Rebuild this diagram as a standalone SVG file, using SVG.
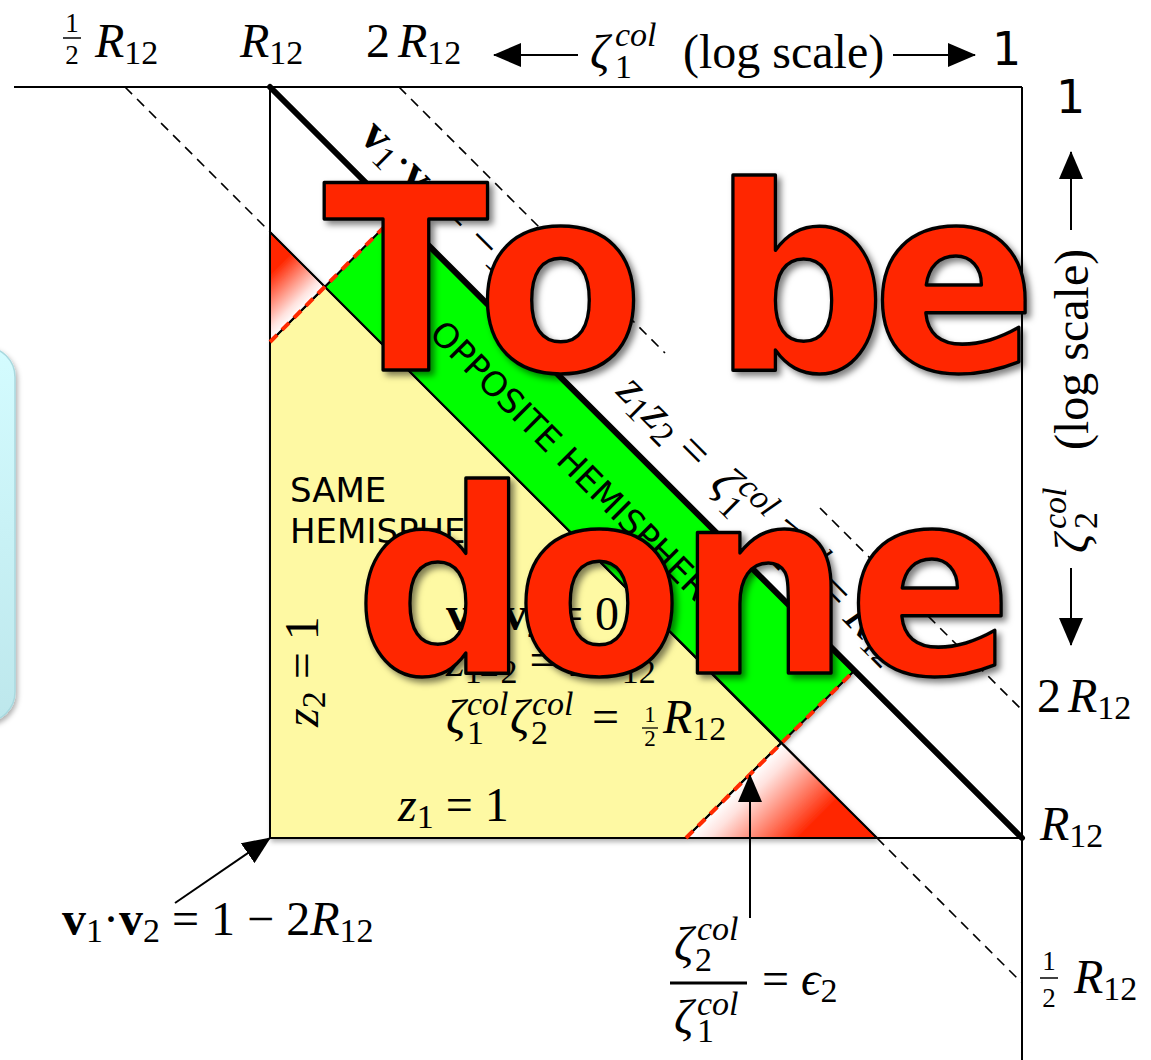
<svg xmlns="http://www.w3.org/2000/svg" width="1151" height="1060" viewBox="0 0 1151 1060">
<defs>
<style>
.m{font-family:"Liberation Serif","DejaVu Serif",serif;font-size:48px;fill:#000}
.it{font-style:italic}
.bf{font-weight:bold}
.s{font-size:34px}
.fr{font-size:27px}
.fs{font-size:23px}
.sans{font-family:"DejaVu Sans","Liberation Sans",sans-serif;fill:#000}
.ln{stroke:#000;stroke-width:2;fill:none}
.dash{stroke:#000;stroke-width:1.6;fill:none;stroke-dasharray:10 7}
.arr{stroke:#000;stroke-width:2;fill:none;marker-end:url(#ah)}
.eps1{stroke:#000;stroke-width:2;fill:none}
.eps2{stroke:#ff2a00;stroke-width:4;fill:none;stroke-dasharray:10 7}
.big{font-family:"DejaVu Sans","Liberation Sans",sans-serif;font-weight:bold;font-size:256px;fill:#ff2600;stroke:#000;stroke-width:3.5;stroke-linejoin:round}
</style>
<marker id="ah" viewBox="0 0 28 24" refX="27" refY="12" markerWidth="28" markerHeight="24" markerUnits="userSpaceOnUse" orient="auto"><path d="M0,0 L28,12 L0,24 z" fill="#000"/></marker>
<linearGradient id="gTL" gradientUnits="userSpaceOnUse" x1="306" y1="306" x2="272" y2="272"><stop offset="0" stop-color="#ffffff"/><stop offset="0.2" stop-color="#ffe2de"/><stop offset="1" stop-color="#ff2600"/></linearGradient>
<linearGradient id="gBR" gradientUnits="userSpaceOnUse" x1="762" y1="763" x2="818" y2="819"><stop offset="0" stop-color="#ffffff"/><stop offset="0.2" stop-color="#ffe2de"/><stop offset="1" stop-color="#ff2600"/></linearGradient>
<linearGradient id="gc" x1="0" y1="0" x2="0" y2="1"><stop offset="0" stop-color="#d4fcff"/><stop offset="1" stop-color="#bde7ec"/></linearGradient>
<filter id="sh" x="-10%" y="-10%" width="130%" height="130%"><feDropShadow dx="4" dy="4" stdDeviation="3" flood-color="#000" flood-opacity="0.5"/></filter>
<filter id="rs" x="-10%" y="-10%" width="130%" height="130%"><feDropShadow dx="2" dy="3" stdDeviation="2.5" flood-color="#000" flood-opacity="0.3"/></filter>
</defs>
<rect x="0" y="0" width="1151" height="1060" fill="#fff"/>

<g id="cyan-box"><rect x="-100" y="347" width="115" height="375" rx="30" fill="url(#gc)" stroke="#a9d9df" stroke-width="1.5" filter="url(#rs)"/></g>

<g id="regions" filter="url(#rs)">
<polygon id="same-hemisphere" points="270,342 325,287 781,743 686,838 270,838" fill="#fef9a3" stroke="#000" stroke-width="2"/>
<polygon id="opposite-hemisphere" points="325,287 397,214 854,671 781,743" fill="#00ff00" stroke="#000" stroke-width="1.5"/>
<polygon id="red-top" points="270,232 325,287 270,342" fill="url(#gTL)" stroke="#000" stroke-width="1.5"/>
<polygon id="red-bottom" points="781,743 877,838 686,838" fill="url(#gBR)" stroke="#000" stroke-width="1.5"/>
</g>

<g id="connectors">
<line class="ln" x1="14" y1="87" x2="1022" y2="87"/>
<line class="ln" x1="1022" y1="87" x2="1022" y2="1060"/>
<line class="ln" x1="270" y1="87" x2="270" y2="838"/>
<line class="ln" x1="270" y1="838" x2="1022" y2="838"/>
<line class="ln" x1="270" y1="232" x2="877" y2="838" stroke-width="1.5"/>
<line class="dash" x1="125" y1="87" x2="270" y2="232"/>
<line class="dash" x1="877" y1="838" x2="1022" y2="983"/>
<line class="dash" x1="399" y1="87" x2="665" y2="353"/>
<line class="dash" x1="820" y1="508" x2="1022" y2="710"/>
<line x1="270" y1="87" x2="1022" y2="838" stroke="#000" stroke-width="6" stroke-linecap="round"/>
<line class="eps1" x1="270" y1="342" x2="397" y2="214"/>
<line class="eps2" x1="270" y1="342" x2="397" y2="214"/>
<line class="eps1" x1="686" y1="838" x2="854" y2="671"/>
<line class="eps2" x1="686" y1="838" x2="854" y2="671"/>
<line class="arr" x1="578" y1="55" x2="494" y2="55"/>
<line class="arr" x1="893" y1="55" x2="975" y2="55"/>
<line class="arr" x1="1071" y1="230" x2="1071" y2="152"/>
<line class="arr" x1="1071" y1="568" x2="1071" y2="645"/>
<line class="arr" x1="175" y1="903" x2="270" y2="838"/>
<line class="arr" x1="750" y1="918" x2="750" y2="775"/>
</g>

<g id="top-axis-labels">
<text class="m fr" x="72" y="32" text-anchor="middle">1</text>
<line x1="63" y1="38" x2="81" y2="38" stroke="#000" stroke-width="1.5"/>
<text class="m fr" x="72" y="64" text-anchor="middle">2</text>
<text class="m" x="95" y="57"><tspan class="it">R</tspan><tspan class="s" dy="7">12</tspan></text>
<text class="m" x="240" y="57"><tspan class="it">R</tspan><tspan class="s" dy="7">12</tspan></text>
<text class="m" x="366" y="57">2</text>
<text class="m" x="398" y="57"><tspan class="it">R</tspan><tspan class="s" dy="7">12</tspan></text>
<text class="m it" x="590" y="68">ζ</text>
<text class="m s it" x="615" y="46">col</text>
<text class="m s" x="615" y="78">1</text>
<text class="m" x="683" y="68">(log scale)</text>
<text class="sans" x="992" y="65" font-size="46">1</text>
</g>

<g id="right-axis-labels">
<text class="sans" x="1056" y="113" font-size="46">1</text>
<g transform="translate(1088,553) rotate(-90)">
<text class="m it" x="0" y="0">ζ</text>
<text class="m s it" x="24" y="-22">col</text>
<text class="m s" x="24" y="9">2</text>
<text class="m" x="103" y="0">(log scale)</text>
</g>
<text class="m" x="1037" y="712">2</text>
<text class="m" x="1068" y="712"><tspan class="it">R</tspan><tspan class="s" dy="7">12</tspan></text>
<text class="m" x="1040" y="840"><tspan class="it">R</tspan><tspan class="s" dy="7">12</tspan></text>
<text class="m fr" x="1049" y="970" text-anchor="middle">1</text>
<line x1="1040" y1="978" x2="1058" y2="978" stroke="#000" stroke-width="1.5"/>
<text class="m fr" x="1049" y="1007" text-anchor="middle">2</text>
<text class="m" x="1074" y="993"><tspan class="it">R</tspan><tspan class="s" dy="7">12</tspan></text>
</g>

<g id="region-labels">
<text class="sans" x="290" y="502" font-size="34">SAME</text>
<text class="sans" x="290" y="543" font-size="34">HEMISPHERE</text>
<text class="sans" transform="translate(428,335) rotate(45)" font-size="34">OPPOSITE HEMISPHERE</text>
<text class="m" transform="translate(318,727) rotate(-90)"><tspan class="it">z</tspan><tspan class="s" dy="7">2</tspan><tspan dy="-7"> = 1</tspan></text>
<text class="m" x="398" y="821"><tspan class="it">z</tspan><tspan class="s" dy="7">1</tspan><tspan dy="-7"> = 1</tspan></text>
<text class="m" x="446" y="630"><tspan class="bf">v</tspan><tspan class="s" dy="7">1</tspan><tspan dy="-7">·</tspan><tspan class="bf">v</tspan><tspan class="s" dy="7">2</tspan><tspan dy="-7"> = 0</tspan></text>
<text class="m" x="446" y="676"><tspan class="it">z</tspan><tspan class="s" dy="7">1</tspan><tspan class="it" dy="-7">z</tspan><tspan class="s" dy="7">2</tspan><tspan dy="-7"> = 2</tspan><tspan class="it">R</tspan><tspan class="s" dy="7">12</tspan></text>
<text class="m it" x="446" y="733">ζ</text>
<text class="m s it" x="467" y="715">col</text>
<text class="m s" x="467" y="744">1</text>
<text class="m it" x="510" y="733">ζ</text>
<text class="m s it" x="532" y="715">col</text>
<text class="m s" x="531" y="744">2</text>
<text class="m" x="592" y="733">=</text>
<text class="m fs" x="650" y="722" text-anchor="middle">1</text>
<line x1="642" y1="728" x2="658" y2="728" stroke="#000" stroke-width="1.3"/>
<text class="m fs" x="650" y="746" text-anchor="middle">2</text>
<text class="m" x="663" y="733"><tspan class="it">R</tspan><tspan class="s" dy="7">12</tspan></text>
<text class="m" transform="translate(358,138) rotate(45)"><tspan class="bf">v</tspan><tspan class="s" dy="7">1</tspan><tspan dy="-7">·</tspan><tspan class="bf">v</tspan><tspan class="s" dy="7">2</tspan><tspan dy="-7"> = −1</tspan></text>
<g transform="translate(615,393) rotate(45)">
<text class="m"><tspan class="it">z</tspan><tspan class="s" dy="7">1</tspan><tspan class="it" dy="-7">z</tspan><tspan class="s" dy="7">2</tspan><tspan dy="-7"> = </tspan></text>
<text class="m it" x="132" y="0">ζ</text>
<text class="m s it" x="154" y="-18">col</text>
<text class="m s" x="154" y="10">1</text>
<text class="m it" x="204" y="0">ζ</text>
<text class="m s it" x="226" y="-18">col</text>
<text class="m s" x="226" y="10">2</text>
<text class="m" x="282" y="0">= <tspan class="it">R</tspan><tspan class="s" dy="7">12</tspan></text>
</g>
</g>

<g id="bottom-labels">
<text class="m" x="62" y="935"><tspan class="bf">v</tspan><tspan class="s" dy="7">1</tspan><tspan dy="-7">·</tspan><tspan class="bf">v</tspan><tspan class="s" dy="7">2</tspan><tspan dy="-7"> = 1 − 2</tspan><tspan class="it">R</tspan><tspan class="s" dy="7">12</tspan></text>
<text class="m it" x="674" y="960">ζ</text>
<text class="m s it" x="697" y="940">col</text>
<text class="m s" x="695" y="971">2</text>
<line x1="670" y1="983" x2="747" y2="983" stroke="#000" stroke-width="3"/>
<text class="m it" x="674" y="1033">ζ</text>
<text class="m s it" x="697" y="1015">col</text>
<text class="m s" x="697" y="1042">1</text>
<text class="m" x="762" y="995">= <tspan class="it">ϵ</tspan><tspan class="s" dy="7">2</tspan></text>
</g>

<g id="overlay" filter="url(#sh)">
<text class="big" transform="translate(323,370) scale(0.95,1)" x="0 162 380 410 578" y="0">To be</text>
<text class="big" transform="translate(355,673) scale(0.95,1)" x="0 169 339 519" y="0">done</text>
</g>
</svg>
